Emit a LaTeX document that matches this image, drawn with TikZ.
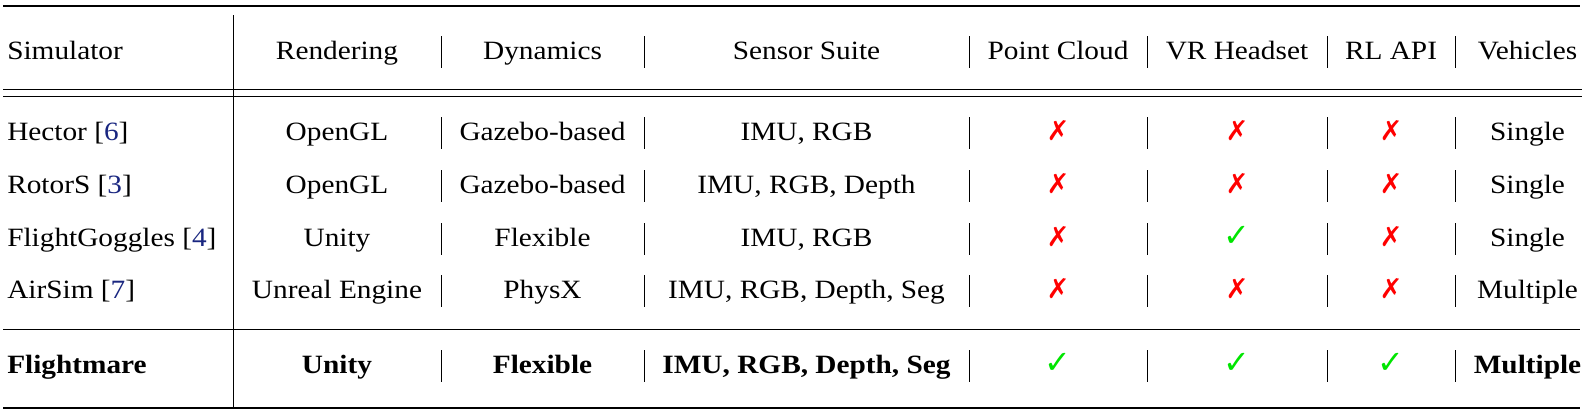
\documentclass[tikz,border=0pt]{standalone}
\usepackage{fontspec}
\setmainfont{Liberation Serif}[FakeStretch=1.11]
\newfontfamily\dingfont{DejaVu Sans}
\usepackage{xcolor}
\definecolor{citeblue}{rgb}{0.1,0.15,0.5}
\definecolor{yesgreen}{rgb}{0,0.9,0}
\definecolor{nored}{rgb}{1,0,0}
\newcommand{\cellsize}{\fontsize{19.8}{24}\selectfont}
\newcommand{\yesmark}{{\dingfont\fontsize{24}{26}\selectfont\textcolor{yesgreen}{✓}}}
\newcommand{\nomark}{{\dingfont\fontsize{20.5}{24}\selectfont\textcolor{nored}{✗}}}
\newcommand{\cit}[1]{[\textcolor{citeblue}{#1}]}

\begin{document}
\begin{tikzpicture}[x=0.75pt,y=0.75pt,yscale=-1,xscale=1,
    font=\cellsize,
    cell/.style={anchor=base,inner sep=0pt},
    simcell/.style={anchor=base west,inner sep=0pt},
    boldcell/.style={cell,font=\cellsize\bfseries},
    colbar/.style={line width=0.6pt},
    thickrule/.style={line width=1.5pt},
    thinrule/.style={line width=0.75pt}]
\useasboundingbox (0,0) rectangle (1587,411);
% rules
\draw [thickrule] (3,6) -- (1580,6) ;
\draw [thinrule] (3,89.3) -- (1582,89.3) ;
\draw [thinrule] (3,96.7) -- (1582,96.7) ;
\draw [thinrule] (3,329) -- (1580,329) ;
\draw [thickrule] (3,407.5) -- (1580,407.5) ;
\draw [thinrule] (233,15) -- (233,408) ;
% column bars
\foreach \bx in {441,644,969,1147,1327,1455}
  \foreach \by in {59,140,193,246,298,373}
    \draw [colbar] (\bx,\by-23) -- (\bx,\by+9) ;
% header
\node [simcell] (simhead) at (7,59) {Simulator};
\node [cell] (renhead) at (337,59) {Rendering};
\node [cell] (dynhead) at (542.5,59) {Dynamics};
\node [cell] (senhead) at (806.5,59) {Sensor Suite};
\node [cell] (pchead) at (1058,59) {Point Cloud};
\node [cell] (vrhead) at (1237,59) {VR Headset};
\node [cell] (rlhead) at (1391,59) {RL API};
\node [cell] (vehhead) at (1527.5,59) {Vehicles};
% Hector
\node [simcell] (hector) at (7,140) {Hector \cit{6}};
\node [cell] (hectorren) at (337,140) {OpenGL};
\node [cell] (hectordyn) at (542.5,140) {Gazebo-based};
\node [cell] (hectorsen) at (806.5,140) {IMU, RGB};
\node [cell] (hectorpc) at (1058,140) {\nomark};
\node [cell] (hectorvr) at (1237,140) {\nomark};
\node [cell] (hectorrl) at (1391,140) {\nomark};
\node [cell] (hectorveh) at (1527.5,140) {Single};
% RotorS
\node [simcell] (rotors) at (7,193) {RotorS \cit{3}};
\node [cell] (rotorsren) at (337,193) {OpenGL};
\node [cell] (rotorsdyn) at (542.5,193) {Gazebo-based};
\node [cell] (rotorssen) at (806.5,193) {IMU, RGB, Depth};
\node [cell] (rotorspc) at (1058,193) {\nomark};
\node [cell] (rotorsvr) at (1237,193) {\nomark};
\node [cell] (rotorsrl) at (1391,193) {\nomark};
\node [cell] (rotorsveh) at (1527.5,193) {Single};
% FlightGoggles
\node [simcell] (goggles) at (7,246) {FlightGoggles \cit{4}};
\node [cell] (gogglesren) at (337,246) {Unity};
\node [cell] (gogglesdyn) at (542.5,246) {Flexible};
\node [cell] (gogglessen) at (806.5,246) {IMU, RGB};
\node [cell] (gogglespc) at (1058,246) {\nomark};
\node [cell] (gogglesvr) at (1237,246) {\yesmark};
\node [cell] (gogglesrl) at (1391,246) {\nomark};
\node [cell] (gogglesveh) at (1527.5,246) {Single};
% AirSim
\node [simcell] (airsim) at (7,298) {AirSim \cit{7}};
\node [cell] (airsimren) at (337,298) {Unreal Engine};
\node [cell] (airsimdyn) at (542.5,298) {PhysX};
\node [cell] (airsimsen) at (806.5,298) {IMU, RGB, Depth, Seg};
\node [cell] (airsimpc) at (1058,298) {\nomark};
\node [cell] (airsimvr) at (1237,298) {\nomark};
\node [cell] (airsimrl) at (1391,298) {\nomark};
\node [cell] (airsimveh) at (1527.5,298) {Multiple};
% Flightmare
\node [simcell,font=\cellsize\bfseries] (fmare) at (7,373) {Flightmare};
\node [boldcell] (fmareren) at (337,373) {Unity};
\node [boldcell] (fmaredyn) at (542.5,373) {Flexible};
\node [boldcell] (fmaresen) at (806.5,373) {IMU, RGB, Depth, Seg};
\node [cell] (fmarepc) at (1058,373) {\yesmark};
\node [cell] (fmarevr) at (1237,373) {\yesmark};
\node [cell] (fmarerl) at (1391,373) {\yesmark};
\node [boldcell] (fmareveh) at (1527.5,373) {Multiple};
\end{tikzpicture}
\end{document}
